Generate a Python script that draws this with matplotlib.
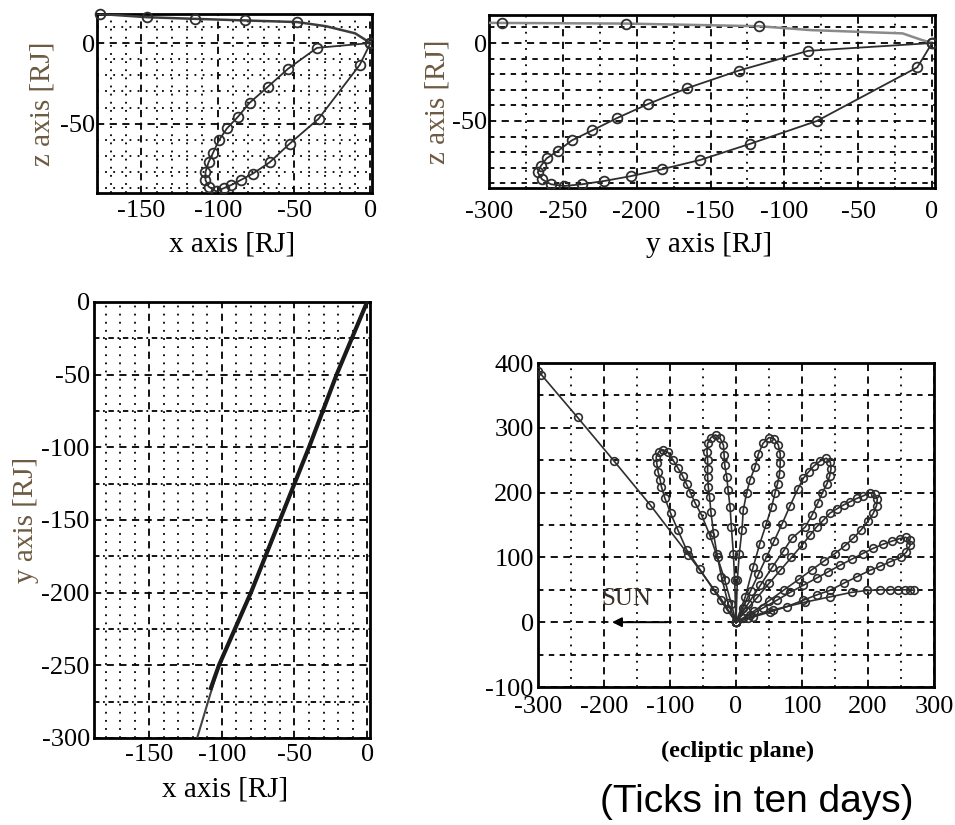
import numpy as np
import matplotlib.pyplot as plt
plt.switch_backend('agg')
from matplotlib.ticker import MultipleLocator

plt.rcParams['axes.unicode_minus'] = False
plt.rcParams['font.family'] = ['Liberation Serif', 'DejaVu Serif']

W, H = 955, 825

# ---- x-z projection (top left) ----
xz_in_x = [-183, -177, -146, -115, -82, -48, -29, -10, 0]
xz_in_z = [18.5, 18, 16, 15, 14, 13, 10.4, 6, 0]
xz_in_ticks_x = [-177, -146, -115, -82, -48]
xz_in_ticks_z = [18, 16, 15, 14, 13]
xz_loop_x = [0, -35, -54, -67, -79, -87, -94, -99, -103, -106, -108, -108, -106,
             -101, -96, -91, -85, -77, -66, -53, -34, -7, 0]
xz_loop_z = [0, -3, -16, -27, -37, -46, -53, -60, -68, -74, -80, -85, -89,
             -92, -90, -88, -85, -81, -74, -62.5, -47, -13.5, 0]

# ---- y-z projection (top right) ----
yz_in_y = [-305, -291, -207, -117, -82, -20, -7, 0]
yz_in_z = [13, 12.9, 12.5, 10.8, 8.3, 6.2, 2, 0]
yz_in_ticks_y = [-291, -207, -117]
yz_in_ticks_z = [12.9, 12.5, 10.8]
yz_loop_y = [0, -84, -131, -166, -192, -213, -230, -244, -253, -261, -265, -267,
             -264, -258, -249, -237, -222, -204, -183, -157, -123, -78, -10, 0]
yz_loop_z = [0, -5, -17.7, -29, -39, -48, -56, -62.5, -69, -74, -79, -83,
             -87.5, -90.6, -91.7, -90.6, -88.5, -85.4, -81, -75, -64.6, -50, -15.6, 0]

# ---- x-y projection (bottom left) ----
xy_orbit_x = [0, -21, -40, -60, -80, -102, -108]
xy_orbit_y = [0, -50, -100, -150, -200, -250, -267]
xy_in_x = [0, -21, -40, -60, -80, -102, -117, -125]
xy_in_y = [0, -50, -100, -150, -200, -250, -300, -320]

# ---- ecliptic plane, rotating frame (bottom right) ----
inc_x = [-300, -295, -240, -185, -130, -72, -22, 0]
inc_y = [388, 382, 316, 249, 181, 104, 35, 0]
petal1_x = [0, -14, -34, -55, -75, -88, -99, -108, -113, -115, -118, -120, -121,
            -117, -110, -103, -96, -88, -81, -75, -69, -62, -52, -40, -28, -17, -7, 0]
petal1_y = [0, 20, 50, 82, 112, 142, 168, 192, 209, 220, 232, 245, 255,
            263, 266, 262, 251, 238, 226, 213, 200, 184, 165, 135, 100, 65, 28, 0]
petal2_x = [0, -12, -22, -29, -34, -38, -40, -42, -43, -43, -43, -44, -43, -38,
            -31, -24, -19, -18, -17, -14, -12, -9, -7, -4, -2, 0]
petal2_y = [0, 29, 70, 106, 137, 170, 193, 209, 224, 237, 250, 263, 276, 285,
            289, 284, 273, 258, 242, 224, 204, 178, 147, 106, 65, 0]
petal3_x = [0, 2, 5, 9, 11, 16, 21, 29, 34, 41, 50, 58, 64, 67, 67, 66, 63, 59,
            54, 46, 36, 26, 14, 0]
petal3_y = [0, 65, 106, 142, 173, 199, 219, 240, 260, 276, 285, 283, 274, 260,
            245, 229, 214, 199, 178, 152, 121, 85, 39, 0]
petal4_x = [0, 10, 22, 34, 46, 58, 70, 82, 94, 102, 110, 118, 128, 137, 143, 144,
            142, 138, 131, 124, 115, 105, 85, 72, 55, 37, 18, 0]
petal4_y = [0, 22, 48, 74, 100, 126, 152, 180, 206, 222, 232, 241, 249, 253, 247,
            237, 226, 214, 200, 184, 165, 147, 130, 110, 85, 57, 28, 0]
petal5_x = [0, 15, 32, 50, 67, 84, 100, 112, 122, 132, 142, 153, 163, 173, 183, 193,
            203, 210, 214, 213, 208, 200, 190, 178, 165, 150, 133, 115, 95, 73, 50, 27, 10, 0]
petal5_y = [0, 18, 38, 60, 80, 100, 119, 134, 147, 157, 168, 175, 181, 186, 191, 195,
            200, 198, 190, 180, 168, 156, 143, 130, 118, 106, 94, 81, 66, 50, 33, 17, 6, 0]
petal6_x = [0, 21, 41, 62, 82, 102, 122, 140, 158, 175, 192, 208, 222, 236, 248,
            257, 263, 264, 258, 250, 233, 218, 203, 183, 163, 142, 122, 102, 77, 52, 26, 0]
petal6_y = [0, 11, 22, 34, 46, 57, 68, 78, 88, 97, 106, 114, 120, 125, 129,
            131, 127, 119, 108, 100, 93, 86, 80, 70, 60, 49, 42, 34, 24, 16, 8, 0]
out_x = [0, 18, 56, 105, 142, 175, 198, 218, 233, 245, 256, 264, 270]
out_y = [0, 7, 19, 31, 39, 46, 49, 50, 50, 50, 50, 50, 49]
petals = [(inc_x, inc_y), (petal1_x, petal1_y), (petal2_x, petal2_y),
          (petal3_x, petal3_y), (petal4_x, petal4_y), (petal5_x, petal5_y),
          (petal6_x, petal6_y), (out_x, out_y)]

TICK_FS = 19
LAB_FS = 21
LINE_C = '#2e2e2e'
YLAB_C = '#6e5a42'
MAJ = (0, (4, 3))
MIN_DOT = (0, (1, 3.5))
MIN_DASH = (0, (3, 3))


def px_axes(fig, l, t, r, b):
    return fig.add_axes([l / W, 1 - b / H, (r - l) / W, (b - t) / H])


def style(ax, xmaj, xmin, ymaj, ymin, xpad, ypad, xminls=MIN_DOT, yminls=MIN_DOT):
    ax.xaxis.set_major_locator(MultipleLocator(xmaj))
    ax.xaxis.set_minor_locator(MultipleLocator(xmin))
    ax.yaxis.set_major_locator(MultipleLocator(ymaj))
    ax.yaxis.set_minor_locator(MultipleLocator(ymin))
    ax.set_axisbelow(True)
    ax.grid(which='major', color='k', ls=MAJ, lw=1.3)
    ax.xaxis.grid(which='minor', color='k', ls=xminls, lw=1.3)
    ax.yaxis.grid(which='minor', color='k', ls=yminls, lw=1.3)
    ax.tick_params(which='both', length=0, labelsize=TICK_FS)
    ax.tick_params(axis='x', pad=xpad)
    ax.tick_params(axis='y', pad=ypad)
    for s in ax.spines.values():
        s.set_linewidth(2)
        s.set_color('k')


fig = plt.figure(figsize=(W / 100, H / 100), dpi=100)

# top left: x-z
ax1 = px_axes(fig, 97, 14, 372, 193)
ax1.plot(xz_in_x, xz_in_z, color='#3c3c3c', lw=1.8, zorder=3)
ax1.plot(xz_in_ticks_x, xz_in_ticks_z, 'o', ms=7, mfc='none', mec=LINE_C, mew=1.3,
         zorder=4, clip_on=False)
ax1.plot(xz_loop_x, xz_loop_z, '-o', color=LINE_C, lw=1.3, ms=7, mfc='none', mew=1.3,
         zorder=4)
ax1.set_xlim(-179, 1)
ax1.set_ylim(-93, 18)
style(ax1, 50, 10, 50, 10, 5, 1)
ax1.set_xlabel('x axis [RJ]', fontsize=LAB_FS)
ax1.set_ylabel('z axis [RJ]', fontsize=LAB_FS, color=YLAB_C)
ax1.xaxis.set_label_coords(0.49, -0.29)
ax1.yaxis.set_label_coords(-0.2, 0.5)
ax1.xaxis.label.set_va('center')
ax1.yaxis.label.set_va('center')

# top right: y-z
ax2 = px_axes(fig, 489, 15, 935, 188)
ax2.plot(yz_in_y, yz_in_z, color='#8a8a8a', lw=1.8, zorder=3)
ax2.plot(yz_in_ticks_y, yz_in_ticks_z, 'o', ms=7, mfc='none', mec=LINE_C, mew=1.3,
         zorder=4)
ax2.plot(yz_loop_y, yz_loop_z, '-o', color=LINE_C, lw=1.3, ms=7, mfc='none', mew=1.3,
         zorder=4)
ax2.set_xlim(-300, 2)
ax2.set_ylim(-93, 18)
style(ax2, 50, 25, 50, 10, 9, 1, yminls=MIN_DASH)
ax2.set_xlabel('y axis [RJ]', fontsize=LAB_FS)
ax2.set_ylabel('z axis [RJ]', fontsize=LAB_FS, color=YLAB_C)
ax2.xaxis.set_label_coords(0.493, -0.33)
ax2.yaxis.set_label_coords(-0.115, 0.5)
ax2.xaxis.label.set_va('center')
ax2.yaxis.label.set_va('center')

# bottom left: x-y
ax3 = px_axes(fig, 94, 302, 370, 738)
ax3.plot(xy_in_x, xy_in_y, color='#444444', lw=1.5, zorder=3)
ax3.plot(xy_orbit_x, xy_orbit_y, color='#1a1a1a', lw=3.0, zorder=4,
         solid_capstyle='butt')
ax3.set_xlim(-188, 2)
ax3.set_ylim(-300, 0)
style(ax3, 50, 10, 50, 25, 4, 3, yminls=(0, (3, 2, 1, 2)))
ax3.set_xlabel('x axis [RJ]', fontsize=LAB_FS)
ax3.set_ylabel('y axis [RJ]', fontsize=LAB_FS, color=YLAB_C)
ax3.xaxis.set_label_coords(0.475, -0.119)
ax3.yaxis.set_label_coords(-0.245, 0.5)
ax3.xaxis.label.set_va('center')
ax3.yaxis.label.set_va('center')

# bottom right: ecliptic plane
ax4 = px_axes(fig, 538, 363, 934, 687)
for px, py in petals:
    ax4.plot(px, py, '-o', color=LINE_C, lw=1.2, ms=5.5, mfc='none', mew=1.2, zorder=4)
ax4.set_xlim(-300, 300)
ax4.set_ylim(-100, 400)
style(ax4, 100, 50, 100, 50, 6.5, 3, yminls=MIN_DASH)
ax4.annotate('', xy=(-192, 0), xytext=(-100, 0),
             arrowprops=dict(arrowstyle='-|>', color='k', lw=1.4,
                             mutation_scale=14), zorder=5)
ax4.text(-166, 36, 'SUN', fontsize=18, color='#3a3028', ha='center', va='center',
         zorder=5)
ax4.set_xlabel('(ecliptic plane)', fontsize=17.5, fontweight='bold')
ax4.xaxis.set_label_coords(0.503, -0.2)
ax4.xaxis.label.set_va('center')

fig.text(757 / W, 1 - 802 / H, '(Ticks in ten days)', fontsize=28,
         family=['Liberation Sans', 'DejaVu Sans'], ha='center', va='center')

fig.savefig('out.png', dpi=100)
